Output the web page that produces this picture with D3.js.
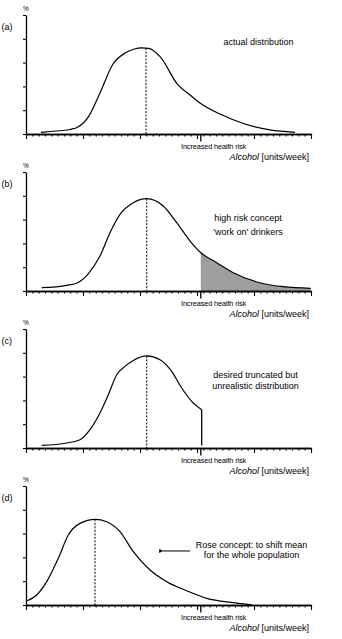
<!DOCTYPE html>
<html><head><meta charset="utf-8">
<script src="https://cdn.jsdelivr.net/npm/d3@7"></script>
<style>
body{margin:0;background:#fff}
svg{display:block}
text{font-family:"Liberation Sans",Arial,sans-serif;fill:#000}
</style>
</head><body>
<svg id="chart" width="342" height="639"></svg>
<script>
// ---- data (x: alcohol units, y: % of population) ----
const panelLabels = ["(a)", "(b)", "(c)", "(d)"];
const xMajorTicks = [0, 9, 18, 27, 36, 45];
const xMinorTicks = d3.range(0, 46, 1);
const yTicks = [0, 1, 2, 3, 4, 5];
const riskThreshold = 27.6;
const riskLabel = "Increased health risk";
const axisTitleItalic = "Alcohol";
const axisTitleRest = " [units/week]";
const yUnit = "%";

const curveA = [[2.37,0.07],[3.79,0.105],[6.95,0.19],[8.21,0.29],[9.95,0.76],[11.68,1.72],[13.74,2.94],[15.63,3.40],[17.0,3.56],[18.3,3.62],[19.4,3.60],[21.2,3.24],[24.0,2.06],[25.9,1.64],[27.47,1.30],[30.63,0.84],[34.58,0.42],[38.53,0.17],[42.47,0.07]];
const curveB = [[2.48,0.14],[6.43,0.24],[8.16,0.35],[9.79,0.71],[11.68,1.47],[13.26,2.45],[14.84,3.22],[16.94,3.71],[19.06,3.88],[21.68,3.57],[23.80,2.87],[25.9,2.10],[27.6,1.61],[30.11,1.19],[32.73,0.77],[36.43,0.38],[40.63,0.18],[44.95,0.11]];
const curveC = [[2.48,0.11],[6.43,0.21],[8.53,0.35],[10.1,0.77],[11.68,1.47],[13.0,2.24],[14.32,3.08],[15.63,3.43],[16.94,3.68],[19.06,3.87],[21.16,3.71],[23.0,3.22],[24.59,2.52],[26.16,1.96],[27.74,1.61]];
const truncC = [[27.74,1.61],[27.74,0.11]];
const curveD = [[0.2,0.18],[1.69,0.42],[3.27,0.98],[5.1,1.96],[6.68,2.94],[8.53,3.43],[10.9,3.60],[12.74,3.50],[14.84,3.08],[16.94,2.24],[19.58,1.47],[22.22,0.98],[25.37,0.60],[28.53,0.28],[32.73,0.10],[35.64,0.01]];
const curves = [curveA, curveB, curveC, curveD];
const peaks = [[18.95,3.61],[19.06,3.88],[19.06,3.87],[10.9,3.60]];
const arrowD = [[25.9,2.27],[21.6,2.27]];

const notes = [
  ["actual distribution"],
  ["high risk concept", "'work on' drinkers"],
  ["desired truncated but", "unrealistic distribution"],
  ["Rose concept: to shift mean", "for the whole population"]
];
const noteX = [258.5, 248, 255.5, 251.5];
const noteY = [[44.5], [63.8, 77.5], [63.5, 75.2], [76.5, 86.5]];

// ---- drawing ----
const svg = d3.select("#chart");
const x = d3.scaleLinear().domain([0, 45]).range([26, 311]);
const y = d3.scaleLinear().domain([0, 5]).range([134, 15]);
const line = d3.line().x(d => x(d[0])).y(d => y(d[1])).curve(d3.curveMonotoneX);
const straight = d3.line().x(d => x(d[0])).y(d => y(d[1]));
const area = d3.area().x(d => x(d[0])).y0(y(0)).y1(d => y(d[1])).curve(d3.curveMonotoneX);

const defs = svg.append("defs");
defs.append("clipPath").attr("id", "riskclip")
  .append("rect").attr("x", x(riskThreshold)).attr("y", 0)
  .attr("width", x(45) - x(riskThreshold) + 2).attr("height", y(0) - 0);
defs.append("marker").attr("id", "arrowhead")
  .attr("viewBox", "0 0 10 10").attr("refX", 1).attr("refY", 5)
  .attr("markerWidth", 4).attr("markerHeight", 4).attr("orient", "auto-start-reverse")
  .attr("markerUnits", "userSpaceOnUse")
  .append("path").attr("d", "M0,5L10,0L10,10Z").attr("fill", "#000");

panelLabels.forEach((lab, i) => {
  const g = svg.append("g").attr("transform", `translate(0,${157 * i})`);

  // shaded high-risk tail (panel b)
  if (i === 1) {
    g.append("path").datum(curves[i]).attr("d", area)
      .attr("fill", "#9e9e9e").attr("clip-path", "url(#riskclip)");
  }

  // axes
  const gx = g.append("g").attr("transform", `translate(0,${y(0)})`);
  gx.call(d3.axisBottom(x).tickValues(xMinorTicks).tickSize(2.5).tickSizeOuter(0).tickFormat(""));
  gx.call(g2 => g2.append("g").call(d3.axisBottom(x).tickValues(xMajorTicks).tickSize(5).tickSizeOuter(0).tickFormat("")));
  gx.selectAll("path,line").attr("stroke", "#000").attr("stroke-width", 1.1);
  gx.selectAll("path.domain").attr("stroke-width", 1.3);

  const gy = g.append("g").attr("transform", `translate(${x(0)},0)`);
  gy.call(d3.axisLeft(y).tickValues(yTicks).tickSize(3).tickSizeOuter(0).tickFormat(""));
  gy.selectAll("path,line").attr("stroke", "#000").attr("stroke-width", 1.1);
  gy.selectAll("path.domain").attr("stroke-width", 1.3);

  // risk marker
  g.append("line").attr("x1", x(riskThreshold)).attr("x2", x(riskThreshold))
    .attr("y1", y(0)).attr("y2", y(0) + 7.5).attr("stroke", "#000").attr("stroke-width", 1.3);
  g.append("text").attr("x", 181).attr("y", 148.5).attr("font-size", 7.4)
    .attr("letter-spacing", "-0.15").text(riskLabel);

  // axis title
  const t = g.append("text").attr("x", 309).attr("y", 159.5).attr("font-size", 9).attr("text-anchor", "end");
  t.append("tspan").attr("font-style", "italic").text(axisTitleItalic);
  t.append("tspan").text(axisTitleRest);

  g.append("text").attr("x", 23).attr("y", 11).attr("font-size", 6.5).text(yUnit);
  g.append("text").attr("x", 1.5).attr("y", 29.5).attr("font-size", 9).text(lab);

  // curve
  g.append("path").datum(curves[i]).attr("d", line)
    .attr("fill", "none").attr("stroke", "#000").attr("stroke-width", 1.2);
  if (i === 2) {
    g.append("path").datum(truncC).attr("d", straight)
      .attr("fill", "none").attr("stroke", "#000").attr("stroke-width", 1.3);
  }

  // mean line
  g.append("line").attr("x1", x(peaks[i][0])).attr("x2", x(peaks[i][0]))
    .attr("y1", y(peaks[i][1])).attr("y2", y(0))
    .attr("stroke", "#000").attr("stroke-width", 1).attr("stroke-dasharray", "2,1.5");

  // notes
  notes[i].forEach((s, k) => {
    g.append("text").attr("x", noteX[i]).attr("y", noteY[i][k])
      .attr("font-size", 9).attr("text-anchor", "middle").text(s);
  });

  if (i === 3) {
    g.append("path").datum(arrowD).attr("d", straight)
      .attr("fill", "none").attr("stroke", "#000").attr("stroke-width", 1)
      .attr("marker-end", "url(#arrowhead)");
  }
});
</script>
</body></html>
